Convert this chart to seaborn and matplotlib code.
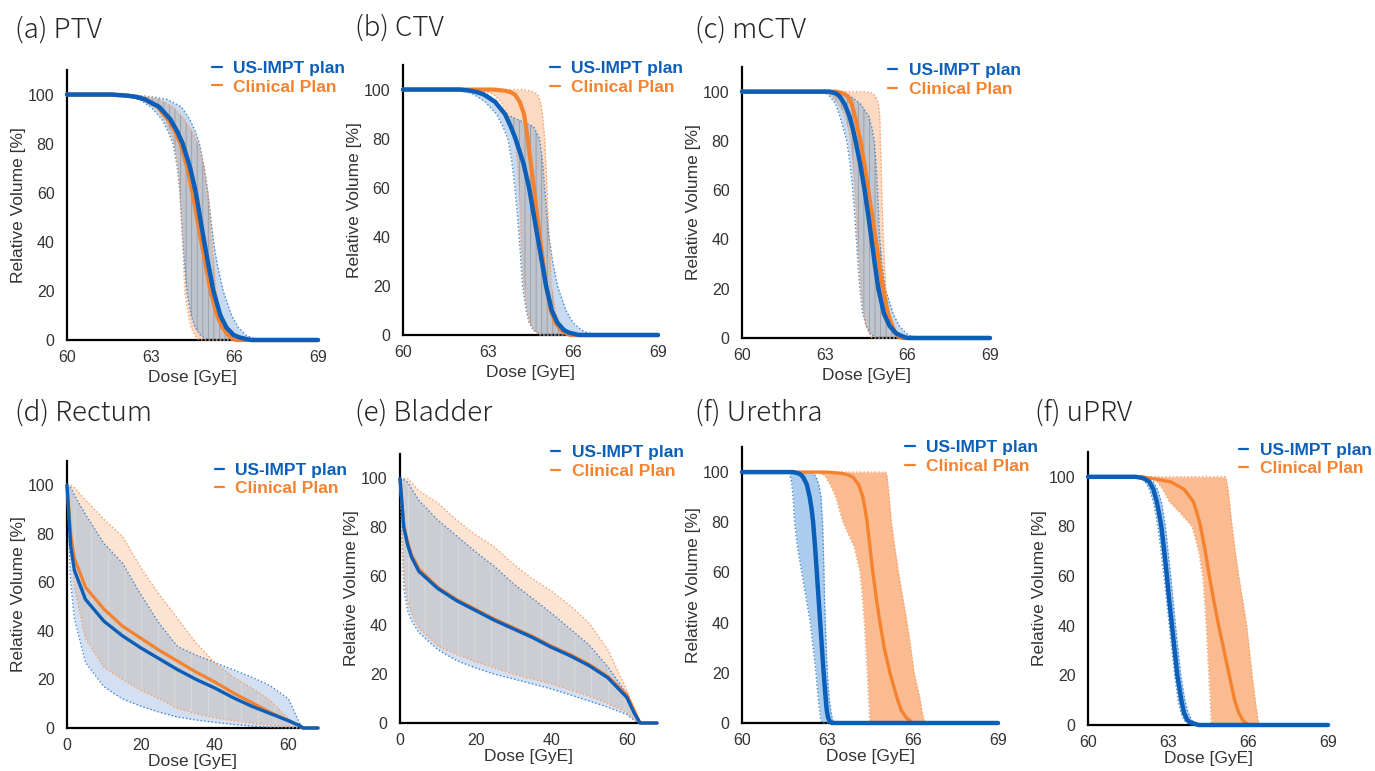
import numpy as np
import matplotlib
matplotlib.use("Agg")
import matplotlib.pyplot as plt
from matplotlib.lines import Line2D
import seaborn as sns

BLUE = "#0B5FB8"
ORANGE = "#F5822F"

# ---- target volumes: dose [GyE] read at fixed relative-volume levels ----
vol_levels = [100, 100, 99.5, 99, 98, 95, 90, 85, 80, 70, 60, 50, 40, 30, 20, 10, 5, 2, 1, 0, 0]

ptv_us_lo = [60, 61.3, 61.9, 62.2, 62.6, 63.0, 63.4, 63.62, 63.8, 63.96, 64.05, 64.1, 64.15, 64.22, 64.3, 64.45, 64.6, 64.78, 64.9, 65.1, 69]
ptv_us_mean = [60, 61.6, 62.2, 62.5, 62.8, 63.3, 63.7, 63.95, 64.15, 64.42, 64.62, 64.77, 64.92, 65.08, 65.25, 65.5, 65.72, 65.98, 66.2, 66.6, 69]
ptv_us_hi = [60, 62.0, 62.7, 63.1, 63.6, 64.1, 64.4, 64.6, 64.75, 64.92, 65.05, 65.15, 65.25, 65.4, 65.6, 65.9, 66.15, 66.42, 66.6, 66.9, 69]
ptv_cl_lo = [60, 61.6, 62.1, 62.4, 62.8, 63.2, 63.5, 63.7, 63.85, 63.98, 64.05, 64.1, 64.15, 64.18, 64.22, 64.35, 64.45, 64.58, 64.65, 64.75, 69]
ptv_cl_mean = [60, 61.6, 62.2, 62.5, 62.8, 63.25, 63.62, 63.88, 64.07, 64.32, 64.5, 64.66, 64.82, 64.98, 65.15, 65.38, 65.58, 65.78, 65.9, 66.05, 69]
ptv_cl_hi = [60, 61.9, 62.5, 62.9, 63.3, 63.8, 64.2, 64.48, 64.7, 64.92, 65.05, 65.13, 65.2, 65.27, 65.35, 65.5, 65.65, 65.82, 65.95, 66.1, 69]

ctv_us_lo = [60, 61.7, 62.1, 62.3, 62.5, 62.9, 63.3, 63.52, 63.7, 63.85, 63.95, 64.03, 64.1, 64.16, 64.22, 64.35, 64.45, 64.6, 64.75, 64.95, 69]
ctv_us_mean = [60, 62.0, 62.4, 62.6, 62.85, 63.25, 63.6, 63.8, 63.97, 64.25, 64.45, 64.6, 64.75, 64.9, 65.05, 65.25, 65.45, 65.68, 65.85, 66.2, 69]
ctv_us_hi = [60, 62.2, 62.6, 62.8, 63.0, 63.3, 63.6, 64.6, 64.82, 64.93, 65.0, 65.07, 65.15, 65.28, 65.45, 65.75, 66.0, 66.3, 66.5, 66.85, 69]
ctv_cl_lo = [60, 62.5, 62.85, 63.0, 63.2, 63.45, 63.7, 63.85, 63.95, 64.04, 64.1, 64.14, 64.17, 64.22, 64.28, 64.38, 64.48, 64.6, 64.7, 64.8, 69]
ctv_cl_mean = [60, 63.2, 63.6, 63.78, 63.95, 64.12, 64.27, 64.34, 64.4, 64.51, 64.62, 64.72, 64.83, 64.94, 65.05, 65.22, 65.38, 65.58, 65.72, 65.9, 69]
ctv_cl_hi = [60, 64.2, 64.5, 64.62, 64.75, 64.85, 64.92, 64.96, 65.0, 65.04, 65.08, 65.11, 65.15, 65.2, 65.25, 65.38, 65.5, 65.65, 65.75, 65.9, 69]

mctv_us_lo = [60, 62.85, 63.0, 63.1, 63.2, 63.4, 63.55, 63.68, 63.8, 63.93, 64.02, 64.09, 64.15, 64.21, 64.28, 64.38, 64.5, 64.65, 64.75, 64.9, 69]
mctv_us_mean = [60, 63.15, 63.35, 63.45, 63.55, 63.72, 63.9, 64.02, 64.12, 64.3, 64.45, 64.58, 64.7, 64.82, 64.95, 65.15, 65.35, 65.58, 65.75, 66.0, 69]
mctv_us_hi = [60, 63.4, 63.65, 63.8, 63.95, 64.3, 64.6, 64.72, 64.8, 64.87, 64.92, 64.96, 65.0, 65.08, 65.2, 65.48, 65.7, 65.95, 66.1, 66.55, 69]
mctv_cl_lo = [60, 62.8, 63.05, 63.17, 63.3, 63.5, 63.75, 63.86, 63.95, 64.04, 64.1, 64.15, 64.2, 64.26, 64.32, 64.42, 64.5, 64.6, 64.65, 64.72, 69]
mctv_cl_mean = [60, 63.4, 63.62, 63.72, 63.85, 63.98, 64.1, 64.2, 64.3, 64.45, 64.58, 64.72, 64.85, 64.98, 65.12, 65.3, 65.45, 65.57, 65.65, 65.8, 69]
mctv_cl_hi = [60, 64.45, 64.7, 64.78, 64.85, 64.95, 65.0, 65.01, 65.02, 65.05, 65.07, 65.1, 65.13, 65.17, 65.22, 65.3, 65.4, 65.52, 65.6, 65.75, 69]

ure_us_lo = [60, 61.65, 61.67, 61.68, 61.7, 61.75, 61.8, 61.82, 61.85, 61.95, 62.1, 62.25, 62.4, 62.5, 62.6, 62.68, 62.73, 62.76, 62.78, 62.8, 69]
ure_us_mean = [60, 61.8, 61.98, 62.06, 62.15, 62.28, 62.38, 62.45, 62.5, 62.57, 62.63, 62.69, 62.75, 62.81, 62.87, 62.94, 62.98, 63.03, 63.07, 63.15, 69]
ure_us_hi = [60, 62.45, 62.5, 62.55, 62.6, 62.7, 62.78, 62.8, 62.83, 62.86, 62.88, 62.9, 62.93, 62.96, 63.0, 63.06, 63.12, 63.17, 63.2, 63.26, 69]
ure_cl_lo = [60, 62.6, 62.75, 62.85, 62.95, 63.1, 63.3, 63.42, 63.55, 63.95, 64.15, 64.23, 64.3, 64.35, 64.4, 64.45, 64.47, 64.48, 64.49, 64.5, 69]
ure_cl_mean = [60, 63.0, 63.5, 63.7, 63.9, 64.1, 64.25, 64.33, 64.4, 64.5, 64.6, 64.72, 64.85, 65.0, 65.2, 65.45, 65.6, 65.78, 65.9, 66.0, 69]
ure_cl_hi = [60, 65.05, 65.07, 65.08, 65.1, 65.13, 65.17, 65.21, 65.25, 65.37, 65.5, 65.65, 65.8, 65.93, 66.05, 66.25, 66.32, 66.37, 66.4, 66.45, 69]

uprv_us_lo = [60, 61.7, 61.95, 62.05, 62.15, 62.3, 62.45, 62.54, 62.62, 62.74, 62.85, 62.95, 63.05, 63.15, 63.25, 63.38, 63.48, 63.6, 63.7, 63.9, 69]
uprv_us_mean = [60, 61.8, 62.05, 62.15, 62.3, 62.45, 62.58, 62.67, 62.75, 62.86, 62.96, 63.05, 63.15, 63.25, 63.35, 63.5, 63.6, 63.72, 63.85, 64.15, 69]
uprv_us_hi = [60, 61.95, 62.2, 62.3, 62.45, 62.6, 62.75, 62.83, 62.9, 63.0, 63.1, 63.19, 63.28, 63.38, 63.48, 63.63, 63.75, 63.88, 64.0, 64.3, 69]
uprv_cl_lo = [60, 62.2, 62.35, 62.45, 62.6, 62.8, 63.05, 63.5, 63.9, 64.15, 64.3, 64.37, 64.43, 64.48, 64.53, 64.58, 64.6, 64.61, 64.62, 64.63, 69]
uprv_cl_mean = [60, 62.0, 62.3, 62.6, 63.1, 63.6, 63.95, 64.1, 64.22, 64.4, 64.55, 64.72, 64.9, 65.1, 65.3, 65.5, 65.65, 65.8, 65.9, 66.05, 69]
uprv_cl_hi = [60, 65.15, 65.17, 65.18, 65.2, 65.25, 65.3, 65.35, 65.4, 65.52, 65.65, 65.8, 65.95, 66.05, 66.15, 66.27, 66.33, 66.37, 66.4, 66.45, 69]

# ---- organs at risk: relative volume [%] read at fixed doses ----
rect_dose = [0, 1, 2, 5, 10, 15, 20, 25, 30, 35, 40, 45, 50, 55, 60, 63, 64, 68]
rect_us_lo = [100, 60, 45, 27, 17, 12, 9, 6.5, 4.5, 3.3, 2.3, 1.5, 0.8, 0.3, 0, 0, 0, 0]
rect_us_mean = [100, 75, 65, 53, 44, 38, 33, 28.5, 24, 20, 16.5, 12.5, 9, 6, 3, 1, 0, 0]
rect_us_hi = [100, 99, 96, 88, 76, 68, 55, 43, 33.5, 30, 27, 24, 21, 17.5, 12, 2, 0, 0]
rect_cl_lo = [100, 80, 58, 37, 25, 20, 15.5, 12, 8, 5.8, 4.2, 3, 2, 1.2, 0.5, 0, 0, 0]
rect_cl_mean = [100, 80, 70, 58, 49, 42, 37, 32, 27.5, 23, 19, 14.5, 10.5, 6.5, 3, 1, 0, 0]
rect_cl_hi = [100, 100, 99, 94, 86, 79, 66, 55, 45, 35, 27, 21, 16.5, 11.5, 4, 1, 0, 0]

blad_dose = [0, 1, 2, 3, 5, 10, 15, 20, 25, 30, 35, 40, 45, 50, 55, 60, 62, 63.5, 68]
blad_us_lo = [100, 55, 46, 42, 37, 30, 25.5, 22.5, 20, 18, 16, 14, 11.5, 9, 6.5, 3.5, 1, 0, 0]
blad_us_mean = [100, 80, 73, 68, 62, 55, 50, 46, 42, 38.5, 35, 31, 27.5, 23.5, 18.5, 10.5, 4, 0, 0]
blad_us_hi = [100, 99.5, 98.5, 96, 91, 83, 76.5, 70, 64, 57, 51, 45, 38.5, 32, 23, 12, 4.5, 0, 0]
blad_cl_lo = [100, 60, 50, 45, 39, 31.5, 28, 25, 22.5, 20, 18, 16, 13.5, 11, 8, 4.5, 1.5, 0, 0]
blad_cl_mean = [100, 81, 74, 69, 63, 55.5, 50.5, 46.5, 42.5, 39, 35.5, 31.5, 28, 24, 19, 11.5, 5, 0, 0]
blad_cl_hi = [100, 100, 100, 98.5, 95, 90, 83, 77, 72, 65, 59, 54, 48, 41, 30, 13.5, 5.5, 0, 0]

titles = ["(a) PTV", "(b) CTV", "(c) mCTV", "(d) Rectum", "(e) Bladder", "(f) Urethra", "(f) uPRV"]
legend_labels = ["US-IMPT plan", "Clinical Plan"]

sns.set_theme(style="white")
plt.rcParams["font.family"] = ["Liberation Sans", "DejaVu Sans"]
plt.rcParams["hatch.linewidth"] = 0.6

fig = plt.figure(figsize=(13.75, 7.71), dpi=100)


def px_axes(left, right, top, bottom):
    W, H = 1375, 771
    return fig.add_axes([left / W, 1 - bottom / H, (right - left) / W, (bottom - top) / H])


def style_axes(ax, xlim, xticks, leg_anchor, xpad):
    ax.set_xlim(*xlim)
    ax.set_ylim(0, 110)
    ax.set_xticks(xticks)
    ax.set_yticks([0, 20, 40, 60, 80, 100])
    for s in ["top", "right"]:
        ax.spines[s].set_visible(False)
    for s in ["left", "bottom"]:
        ax.spines[s].set_color("black")
        ax.spines[s].set_linewidth(1.6)
    ax.tick_params(length=0, labelsize=11.5, labelcolor="#333333")
    ax.tick_params(axis="y", pad=9)
    ax.tick_params(axis="x", pad=7)
    ax.set_xlabel("Dose [GyE]", fontsize=12.5, color="#333333", labelpad=xpad)
    ax.set_ylabel("Relative Volume [%]", fontsize=12.5, color="#333333", labelpad=1)
    ax.grid(False)
    handles = [Line2D([0], [0], color=BLUE, lw=1.6), Line2D([0], [0], color=ORANGE, lw=1.6)]
    ax.legend(handles, legend_labels, loc="upper left", bbox_to_anchor=leg_anchor,
              frameon=False, handlelength=0.55, handletextpad=0.65, labelspacing=0.2,
              borderaxespad=0, prop={"weight": "bold", "size": 12.5},
              labelcolor=[BLUE, ORANGE])


def line(ax, x, y, color, lw, ls="-"):
    sns.lineplot(x=x, y=y, sort=False, estimator=None, color=color, lw=lw,
                 linestyle=ls, ax=ax, clip_on=False, zorder=4 if ls == "-" else 3)


def draw_target(ax, us, cl, vivid=False):
    V = np.array(vol_levels)
    us_lo, us_mean, us_hi = (np.array(a) for a in us)
    cl_lo, cl_mean, cl_hi = (np.array(a) for a in cl)
    if vivid:
        ax.fill_betweenx(V, us_lo, us_hi, color="#8FBCE6", alpha=0.75, lw=0)
        ax.fill_betweenx(V, cl_lo, cl_hi, color="#F8A46A", alpha=0.75, lw=0)
    else:
        ax.fill_betweenx(V, us_lo, us_hi, color="#C7DAF0", lw=0)
        ax.fill_betweenx(V, cl_lo, cl_hi, color="#FBD9C2", lw=0)
        left = np.maximum(us_lo, cl_lo)
        right = np.minimum(us_hi, cl_hi)
        ax.fill_betweenx(V, left, right, where=right > left, facecolor="#C0C4CC",
                         edgecolor="#979CA7", hatch="|||", lw=0, interpolate=True)
    for b in (us_lo, us_hi):
        line(ax, b, V, "#3F86D0", 1.0, ":")
    for b in (cl_lo, cl_hi):
        line(ax, b, V, "#F6A06A", 1.0, ":")
    line(ax, cl_mean, V, ORANGE, 2.4 if vivid else 3.0)
    line(ax, us_mean, V, BLUE, 3.2)


def draw_oar(ax, dose, us, cl):
    D = np.array(dose)
    us_lo, us_mean, us_hi = (np.array(a) for a in us)
    cl_lo, cl_mean, cl_hi = (np.array(a) for a in cl)
    ax.fill_between(D, us_lo, us_hi, color="#D3E0F4", lw=0)
    ax.fill_between(D, cl_lo, cl_hi, color="#FCE3D2", lw=0)
    low = np.maximum(us_lo, cl_lo)
    high = np.minimum(us_hi, cl_hi)
    ax.fill_between(D, low, high, where=high > low, facecolor="#CBCDD2",
                    edgecolor="#DADCE0", hatch="|", lw=0, interpolate=True)
    for b in (us_lo, us_hi):
        line(ax, D, b, "#3F86D0", 1.0, ":")
    for b in (cl_lo, cl_hi):
        line(ax, D, b, "#F6A06A", 1.0, ":")
    line(ax, D, cl_mean, ORANGE, 2.3)
    line(ax, D, us_mean, BLUE, 2.4)


t_ticks = [60, 63, 66, 69]
o_ticks = [0, 20, 40, 60]

ax_a = px_axes(67, 318, 70, 340)
draw_target(ax_a, (ptv_us_lo, ptv_us_mean, ptv_us_hi), (ptv_cl_lo, ptv_cl_mean, ptv_cl_hi))
style_axes(ax_a, (60, 69), t_ticks, (0.55, 1.06), 4)

ax_b = px_axes(403, 658, 65, 335)
draw_target(ax_b, (ctv_us_lo, ctv_us_mean, ctv_us_hi), (ctv_cl_lo, ctv_cl_mean, ctv_cl_hi))
style_axes(ax_b, (60, 69), t_ticks, (0.55, 1.04), 4)

ax_c = px_axes(742, 990, 67, 338)
draw_target(ax_c, (mctv_us_lo, mctv_us_mean, mctv_us_hi), (mctv_cl_lo, mctv_cl_mean, mctv_cl_hi))
style_axes(ax_c, (60, 69), t_ticks, (0.56, 1.04), 4)

ax_d = px_axes(67, 318, 461, 728)
draw_oar(ax_d, rect_dose, (rect_us_lo, rect_us_mean, rect_us_hi), (rect_cl_lo, rect_cl_mean, rect_cl_hi))
style_axes(ax_d, (0, 68), o_ticks, (0.56, 1.02), 1)

ax_e = px_axes(400, 657, 454, 723)
draw_oar(ax_e, blad_dose, (blad_us_lo, blad_us_mean, blad_us_hi), (blad_cl_lo, blad_cl_mean, blad_cl_hi))
style_axes(ax_e, (0, 68), o_ticks, (0.56, 1.06), 1)

ax_f = px_axes(742, 998, 447, 723)
draw_target(ax_f, (ure_us_lo, ure_us_mean, ure_us_hi), (ure_cl_lo, ure_cl_mean, ure_cl_hi), vivid=True)
style_axes(ax_f, (60, 69), t_ticks, (0.61, 1.05), 1)

ax_g = px_axes(1088, 1328, 452, 725)
draw_target(ax_g, (uprv_us_lo, uprv_us_mean, uprv_us_hi), (uprv_cl_lo, uprv_cl_mean, uprv_cl_hi), vivid=True)
style_axes(ax_g, (60, 69), t_ticks, (0.6, 1.06), 1)

title_pos = [(15, 30), (355, 28), (695, 30), (15, 413), (355, 413), (695, 413), (1035, 413)]
for (x, y), t in zip(title_pos, titles):
    fig.text(x / 1375, 1 - y / 771, t, ha="left", va="center", fontsize=20,
             color="#262626", family=["Noto Sans CJK JP", "DejaVu Sans"], fontweight="light")

fig.savefig("out.png", dpi=100)
